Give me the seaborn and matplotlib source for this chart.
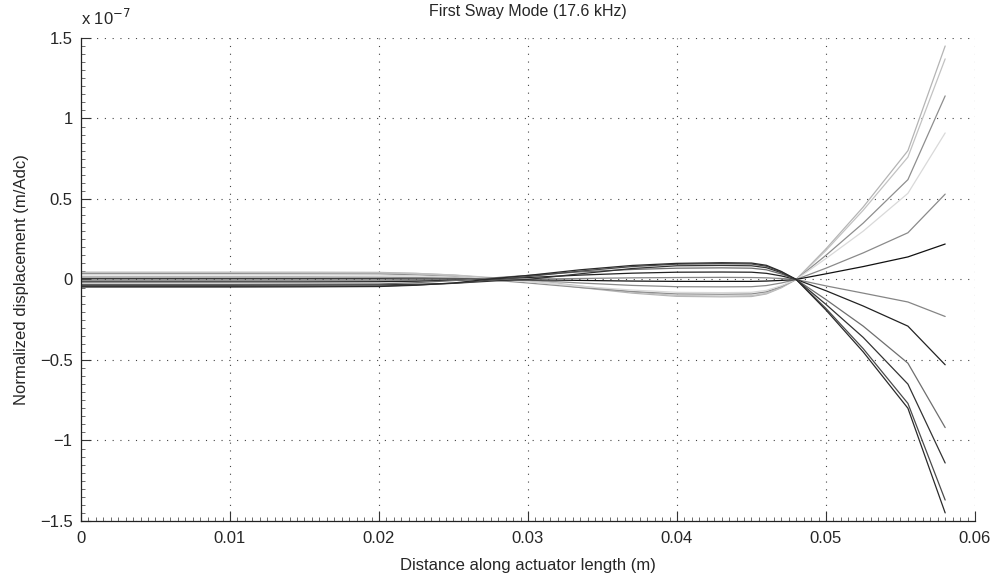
import pandas as pd
import matplotlib
matplotlib.use("Agg")
import matplotlib.pyplot as plt
import seaborn as sns
from matplotlib.ticker import MultipleLocator, FuncFormatter

sns.set_style("white")
plt.rcParams["font.family"] = ["Liberation Sans", "DejaVu Sans"]

# positions along the actuator (m)
x_pos = [0, 0.005, 0.01, 0.015, 0.02, 0.0225, 0.025, 0.028, 0.03, 0.0335, 0.037,
         0.04, 0.043, 0.045, 0.046, 0.047, 0.048, 0.05, 0.0525, 0.0555, 0.058]

# normalized displacement, units of 1e-7 m/Adc
d01 = [0.045, 0.045, 0.045, 0.045, 0.044, 0.038, 0.027, 0.005, -0.010, -0.050, -0.085,
       -0.105, -0.108, -0.106, -0.090, -0.052, 0.0, 0.19, 0.45, 0.80, 1.45]
d02 = [0.042, 0.042, 0.042, 0.042, 0.041, 0.037, 0.028, 0.009, -0.001, -0.040, -0.078,
       -0.100, -0.103, -0.101, -0.086, -0.049, 0.0, 0.18, 0.43, 0.76, 1.37]
d03 = [0.036, 0.036, 0.036, 0.035, 0.034, 0.028, 0.018, -0.007, -0.022, -0.050, -0.075,
       -0.090, -0.092, -0.090, -0.077, -0.044, 0.0, 0.15, 0.35, 0.62, 1.14]
d04 = [0.028, 0.028, 0.028, 0.028, 0.027, 0.022, 0.015, 0.0, -0.014, -0.043, -0.066,
       -0.080, -0.082, -0.080, -0.068, -0.039, 0.0, 0.13, 0.30, 0.535, 0.91]
d05 = [0.015, 0.015, 0.015, 0.015, 0.014, 0.012, 0.008, 0.002, -0.004, -0.022, -0.037,
       -0.045, -0.046, -0.045, -0.038, -0.022, 0.0, 0.07, 0.165, 0.29, 0.53]
d06 = [0.004, 0.004, 0.004, 0.004, 0.004, 0.003, 0.002, 0.0, -0.002, -0.006, -0.010,
       -0.012, -0.012, -0.012, -0.010, -0.006, 0.0, 0.035, 0.08, 0.14, 0.22]
d07 = [-0.005, -0.005, -0.005, -0.005, -0.005, -0.004, -0.003, 0.0, 0.002, 0.006, 0.010,
       0.012, 0.013, 0.012, 0.010, 0.006, 0.0, -0.04, -0.085, -0.14, -0.23]
d08 = [-0.015, -0.015, -0.015, -0.015, -0.014, -0.011, -0.005, 0.005, 0.012, 0.027, 0.039,
       0.045, 0.046, 0.045, 0.038, 0.022, 0.0, -0.07, -0.165, -0.29, -0.53]
d09 = [-0.030, -0.030, -0.030, -0.029, -0.028, -0.020, -0.007, 0.012, 0.025, 0.047, 0.062,
       0.070, 0.072, 0.070, 0.060, 0.034, 0.0, -0.125, -0.29, -0.52, -0.92]
d10 = [-0.036, -0.036, -0.036, -0.035, -0.034, -0.030, -0.024, -0.008, 0.0, 0.035, 0.068,
       0.085, 0.087, 0.085, 0.073, 0.042, 0.0, -0.155, -0.36, -0.65, -1.14]
d11 = [-0.043, -0.043, -0.043, -0.042, -0.041, -0.034, -0.024, 0.0, 0.018, 0.052, 0.080,
       0.095, 0.098, 0.096, 0.082, 0.047, 0.0, -0.18, -0.43, -0.77, -1.37]
d12 = [-0.047, -0.047, -0.047, -0.046, -0.044, -0.036, -0.022, 0.008, 0.025, 0.060, 0.087,
       0.100, 0.104, 0.102, 0.088, 0.050, 0.0, -0.19, -0.45, -0.80, -1.45]

series = [d01, d02, d03, d04, d05, d06, d07, d08, d09, d10, d11, d12]
shades = ["#b4b4b4", "#c2c2c2", "#8e8e8e", "#d9d9d9", "#8a8a8a", "#111111",
          "#858585", "#222222", "#6e6e6e", "#333333", "#4a4a4a", "#2a2a2a"]

x_ticks = [0, 0.01, 0.02, 0.03, 0.04, 0.05, 0.06]
y_ticks = [-1.5, -1, -0.5, 0, 0.5, 1, 1.5]

rows = []
for i, ys in enumerate(series):
    for xv, yv in zip(x_pos, ys):
        rows.append({"curve": f"c{i}", "x": xv, "y": yv})
df = pd.DataFrame(rows)
palette = {f"c{i}": c for i, c in enumerate(shades)}

fig = plt.figure(figsize=(9.97, 5.75), dpi=100)
ax = fig.add_axes([0.0812, 0.094, 0.8967, 0.840])

sns.lineplot(data=df, x="x", y="y", hue="curve", palette=palette,
             estimator=None, sort=False, legend=False, linewidth=0.9, ax=ax)

ax.set_xlim(0, 0.06)
ax.set_ylim(-1.5, 1.5)
ax.set_xticks(x_ticks)
ax.set_yticks(y_ticks)
ax.xaxis.set_minor_locator(MultipleLocator(0.0005))
ax.yaxis.set_minor_locator(MultipleLocator(0.05))
ax.xaxis.set_major_formatter(FuncFormatter(lambda v, p: f"{v:g}"))
ax.yaxis.set_major_formatter(FuncFormatter(lambda v, p: f"{v:g}".replace("-", "\u2212")))
ax.tick_params(which="both", bottom=True, left=True, top=False, right=False)
ax.tick_params(which="major", direction="in", length=7, width=0.8,
               labelsize=12, color="#333333")
ax.tick_params(which="minor", direction="in", length=3, width=0.6, color="#555555")
ax.tick_params(axis="x", pad=7)
ax.tick_params(axis="y", pad=6)

ax.grid(True, which="major", color="#444444", linestyle=(0, (1, 6)), linewidth=0.8)
for side in ["top", "right"]:
    ax.spines[side].set_visible(False)
for side in ["left", "bottom"]:
    ax.spines[side].set_color("#222222")
    ax.spines[side].set_linewidth(0.9)

ax.set_xlabel("Distance along actuator length (m)", fontsize=12, labelpad=9)
ax.set_ylabel("Normalized displacement (m/Adc)", fontsize=12, labelpad=8)
ax.set_title("First Sway Mode (17.6 kHz)", fontsize=11.5, pad=16)
ax.text(0.0, 1.02, r"x 10$^{-7}$", transform=ax.transAxes, fontsize=12,
        ha="left", va="bottom")

fig.savefig("out.png", dpi=100)
plt.close(fig)
